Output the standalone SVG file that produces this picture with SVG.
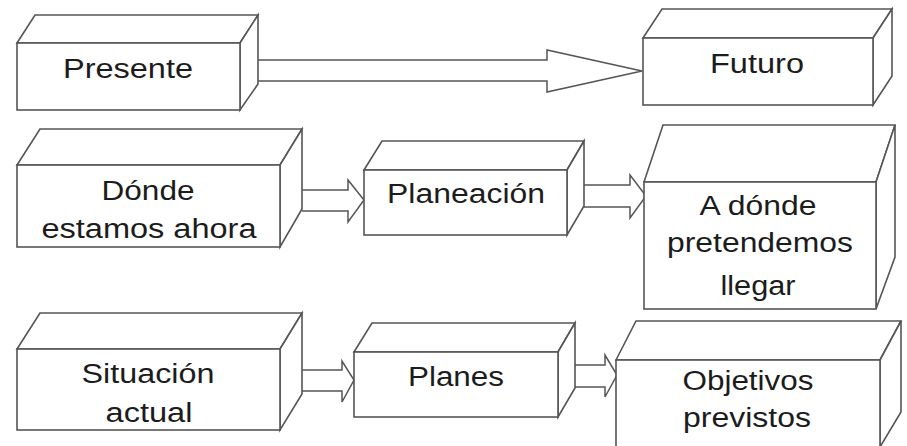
<svg xmlns="http://www.w3.org/2000/svg" width="907" height="446" viewBox="0 0 907 446">
<style>
.f{fill:#fff;stroke:#555;stroke-width:1.6;stroke-linejoin:miter}
.a{fill:#fff;stroke:#555;stroke-width:1.5;stroke-linejoin:miter}
.t{font-family:"Liberation Sans",Arial,sans-serif;font-size:27px;fill:#1c1c1c;text-anchor:middle}
</style>
<rect width="907" height="446" fill="#fff"/>
<g id="connectors">
<polyline class="a" points="258,60 547,60 547,50 642,71 547,92 547,81 258,81"/>
<polyline class="a" points="302,190 348,190 348,180 364,200 348,222 348,211 302,211"/>
<polyline class="a" points="584,185 630,185 630,175 646,196 630,218 630,207 584,207"/>
<polyline class="a" points="302,370 342,370 342,361 354,380 342,402 342,391 302,391"/>
<polyline class="a" points="575,365 605,365 605,355 617,375 605,397 605,387 575,387"/>
</g>
<g id="presente">
<polygon class="f" points="17,43 35,15 258,15 240,43"/>
<polygon class="f" points="240,43 258,15 258,84 240,110"/>
<rect class="f" x="17" y="43" width="223" height="67"/>
<text class="t" x="128" y="78" textLength="130" lengthAdjust="spacingAndGlyphs">Presente</text>
</g>
<g id="futuro">
<polygon class="f" points="643,38 662,9 892,9 873,38"/>
<polygon class="f" points="873,38 892,9 892,76 873,105"/>
<rect class="f" x="643" y="38" width="230" height="67"/>
<text class="t" x="757" y="73" textLength="94" lengthAdjust="spacingAndGlyphs">Futuro</text>
</g>
<g id="donde">
<polygon class="f" points="17,165 40,129 302,129 280,165"/>
<polygon class="f" points="280,165 302,129 302,209 280,247"/>
<rect class="f" x="17" y="165" width="263" height="82"/>
<text class="t" x="148" y="200" textLength="93" lengthAdjust="spacingAndGlyphs">Dónde</text>
<text class="t" x="149" y="238" textLength="215" lengthAdjust="spacingAndGlyphs">estamos ahora</text>
</g>
<g id="planeacion">
<polygon class="f" points="364,170 382,141 584,141 567,170"/>
<polygon class="f" points="567,170 584,141 584,206 567,235"/>
<rect class="f" x="364" y="170" width="203" height="65"/>
<text class="t" x="466" y="203" textLength="158" lengthAdjust="spacingAndGlyphs">Planeación</text>
</g>
<g id="adonde">
<polygon class="f" points="644,182 663,125 895,125 876,182"/>
<polygon class="f" points="876,182 895,125 895,257 876,309"/>
<rect class="f" x="644" y="182" width="232" height="127"/>
<text class="t" x="758" y="215" textLength="117" lengthAdjust="spacingAndGlyphs">A dónde</text>
<text class="t" x="760" y="252" textLength="186" lengthAdjust="spacingAndGlyphs">pretendemos</text>
<text class="t" x="758" y="295" textLength="75" lengthAdjust="spacingAndGlyphs">llegar</text>
</g>
<g id="situacion">
<polygon class="f" points="17,349 40,313 302,313 280,349"/>
<polygon class="f" points="280,349 302,313 302,394 280,430"/>
<rect class="f" x="17" y="349" width="263" height="81"/>
<text class="t" x="148" y="383" textLength="133" lengthAdjust="spacingAndGlyphs">Situación</text>
<text class="t" x="149" y="422" textLength="87" lengthAdjust="spacingAndGlyphs">actual</text>
</g>
<g id="planes">
<polygon class="f" points="354,352 372,323 575,323 558,352"/>
<polygon class="f" points="558,352 575,323 575,388 558,417"/>
<rect class="f" x="354" y="352" width="204" height="65"/>
<text class="t" x="456" y="386" textLength="96" lengthAdjust="spacingAndGlyphs">Planes</text>
</g>
<g id="objetivos">
<polygon class="f" points="616,360 636,321 901,321 880,360"/>
<polygon class="f" points="880,360 901,321 901,412 880,447"/>
<rect class="f" x="616" y="360" width="264" height="90"/>
<text class="t" x="748" y="390" textLength="131" lengthAdjust="spacingAndGlyphs">Objetivos</text>
<text class="t" x="747" y="427" textLength="128" lengthAdjust="spacingAndGlyphs">previstos</text>
</g>
</svg>
